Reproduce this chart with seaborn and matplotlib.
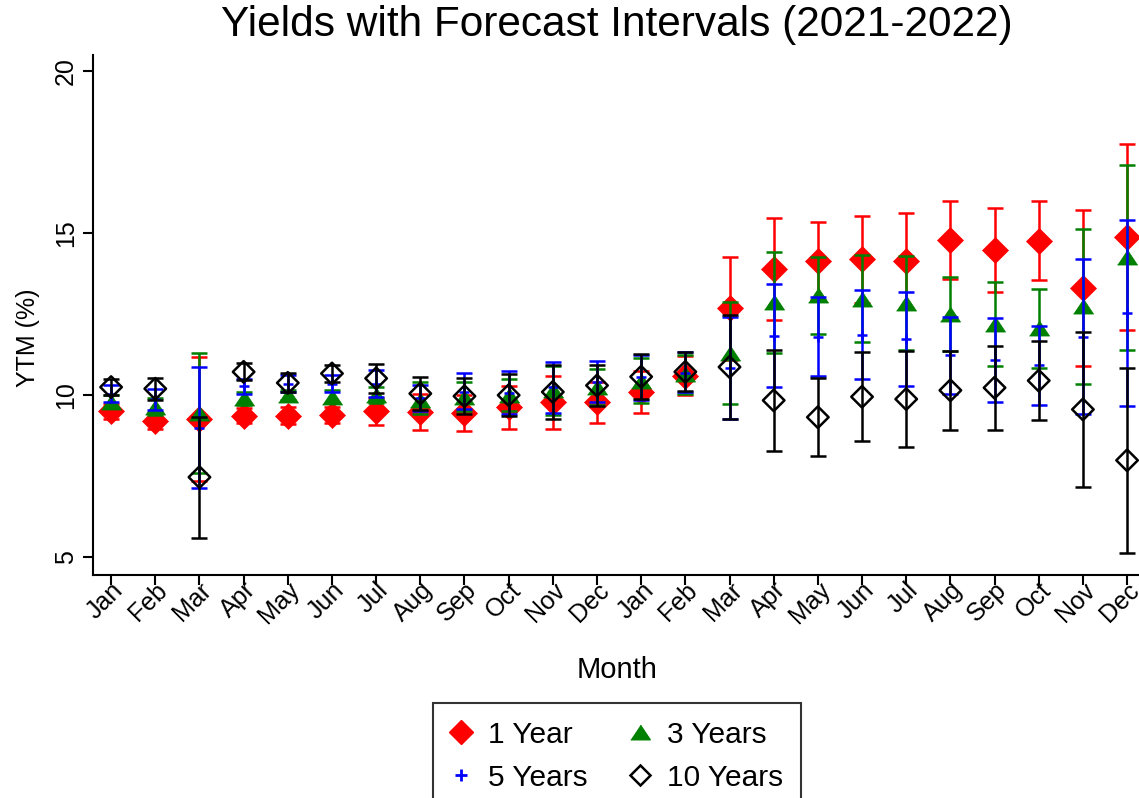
import numpy as np
import pandas as pd
import matplotlib
matplotlib.use("Agg")
import matplotlib.pyplot as plt
from matplotlib.lines import Line2D
import seaborn as sns

# ---------------- data ----------------
months = ["Jan", "Feb", "Mar", "Apr", "May", "Jun", "Jul", "Aug", "Sep", "Oct", "Nov", "Dec",
          "Jan", "Feb", "Mar", "Apr", "May", "Jun", "Jul", "Aug", "Sep", "Oct", "Nov", "Dec"]

y1 = [9.50, 9.20, 9.26, 9.37, 9.37, 9.38, 9.50, 9.49, 9.45, 9.62, 9.78, 9.78,
      10.10, 10.60, 12.68, 13.90, 14.14, 14.19, 14.14, 14.78, 14.49, 14.77, 13.30, 14.87]
lo1 = [9.27, 8.95, 7.35, 9.13, 9.12, 9.13, 9.08, 8.94, 8.90, 8.97, 8.97, 9.15,
       9.45, 10.00, 11.10, 12.33, 12.93, 12.85, 12.67, 13.59, 13.20, 13.55, 10.90, 12.00]
hi1 = [9.73, 9.45, 11.17, 9.61, 9.62, 9.63, 9.92, 10.04, 10.00, 10.28, 10.59, 10.41,
       10.75, 11.20, 14.27, 15.47, 15.35, 15.53, 15.61, 15.99, 15.78, 15.99, 15.71, 17.74]

y3 = [9.80, 9.65, 9.45, 9.90, 10.00, 9.95, 10.00, 9.85, 9.95, 10.00, 10.15, 10.25,
      10.45, 10.65, 11.30, 12.87, 13.09, 12.98, 12.85, 12.50, 12.20, 12.07, 12.74, 14.26]
lo3 = [9.60, 9.40, 7.60, 9.70, 9.85, 9.75, 9.75, 9.43, 9.50, 9.50, 9.40, 9.70,
       9.75, 10.05, 9.72, 11.30, 11.90, 11.64, 11.40, 11.37, 10.90, 10.85, 10.34, 11.40]
hi3 = [10.00, 9.90, 11.30, 10.10, 10.15, 10.15, 10.25, 10.40, 10.40, 10.50, 10.90, 10.80,
       11.15, 11.25, 12.88, 14.42, 14.27, 14.32, 14.30, 13.65, 13.50, 13.29, 15.13, 17.12]

y5 = [10.05, 9.87, 9.00, 10.28, 10.36, 10.36, 10.35, 9.90, 10.10, 10.08, 10.24, 10.40,
      10.55, 10.70, 10.84, 11.84, 11.81, 11.87, 11.73, 11.23, 11.08, 10.92, 11.81, 12.53]
lo5 = [9.79, 9.54, 7.13, 10.05, 10.10, 10.10, 9.93, 9.50, 9.56, 9.43, 9.45, 9.79,
       9.85, 10.10, 9.26, 10.26, 10.59, 10.50, 10.27, 10.03, 9.79, 9.71, 9.43, 9.66]
hi5 = [10.31, 10.20, 10.87, 10.51, 10.62, 10.62, 10.77, 10.30, 10.67, 10.74, 11.03, 11.05,
       11.25, 11.32, 12.42, 13.42, 13.03, 13.24, 13.19, 12.42, 12.37, 12.13, 14.19, 15.40]

y10 = [10.25, 10.20, 7.47, 10.72, 10.38, 10.67, 10.52, 10.05, 9.97, 10.00, 10.10, 10.30,
       10.57, 10.72, 10.87, 9.84, 9.32, 9.95, 9.88, 10.15, 10.23, 10.45, 9.56, 7.99]
lo10 = [10.00, 9.85, 5.60, 10.46, 10.10, 10.41, 10.08, 9.55, 9.41, 9.35, 9.28, 9.68,
        9.88, 10.13, 9.27, 8.27, 8.12, 8.59, 8.40, 8.94, 8.94, 9.23, 7.17, 5.13]
hi10 = [10.50, 10.52, 9.33, 10.98, 10.67, 10.93, 10.96, 10.57, 10.54, 10.65, 10.93, 10.92,
        11.28, 11.32, 12.47, 11.41, 10.54, 11.32, 11.36, 11.36, 11.52, 11.67, 11.95, 10.85]

labels = ["1 Year", "3 Years", "5 Years", "10 Years"]

# ---------------- style ----------------
sns.set_theme(style="white")
plt.rcParams["font.family"] = ["Liberation Sans", "DejaVu Sans"]
plt.rcParams["text.color"] = "black"
plt.rcParams["axes.labelcolor"] = "black"
plt.rcParams["xtick.color"] = "black"
plt.rcParams["ytick.color"] = "black"

W, H = 1139, 798
fig = plt.figure(figsize=(W / 100, H / 100), dpi=100)
ax = fig.add_axes([93 / W, 1 - 575 / H, 1 - 93 / W, (575 - 55) / H])

x = np.arange(len(months))
tri = [(-1, -0.75), (1, -0.75), (0, 0.75)]

specs = [
    (labels[0], y1, lo1, hi1, "#ff0000", "D", 175, "#ff0000", "#ff0000", 0.5),
    (labels[1], y3, lo3, hi3, "#008000", tri, 210, "#008000", "#008000", 0.5),
    (labels[2], y5, lo5, hi5, "#0000ff", "+", 60, "#0000ff", "#0000ff", 1.8),
    (labels[3], y10, lo10, hi10, "#000000", "D", 120, "none", "#000000", 1.8),
]

z = 2
for lab, y, lo, hi, col, mk, s, fc, ec, lw in specs:
    y = np.asarray(y); lo = np.asarray(lo); hi = np.asarray(hi)
    ax.errorbar(x, y, yerr=[y - lo, hi - y], fmt="none", ecolor=col,
                elinewidth=1.8, capsize=5.6, capthick=1.8, zorder=z)
    df = pd.DataFrame({"x": x, "y": y})
    sns.scatterplot(data=df, x="x", y="y", marker=mk, s=s, ax=ax,
                    color=col, facecolor=fc, edgecolor=ec, linewidth=lw,
                    zorder=z + 0.5, legend=False)
    z += 1

ax.set_xlim(-0.41, 23.27)
ax.set_ylim(4.45, 20.5)
ax.set_xticks(x)
ax.set_xticklabels(months, rotation=45, ha="right", va="top",
                   rotation_mode="anchor", fontsize=18)
ax.set_yticks([5, 10, 15, 20])
ax.set_yticklabels(["5", "10", "15", "20"], rotation=90, va="center", fontsize=18)
ax.tick_params(axis="both", which="both", bottom=True, left=True, direction="out",
               length=7, width=1.5, colors="black")
ax.tick_params(axis="x", pad=-5)
ax.tick_params(axis="y", pad=4)
ax.set_xlabel("")
ax.set_ylabel("")
for side in ["top", "right"]:
    ax.spines[side].set_visible(False)
for side in ["left", "bottom"]:
    ax.spines[side].set_color("black")
    ax.spines[side].set_linewidth(1.5)
ax.grid(False)

fig.text(617 / W, 1 - 25 / H, "Yields with Forecast Intervals (2021-2022)",
         ha="center", va="center", fontsize=30.5)
fig.text(617 / W, 1 - 670 / H, "Month", ha="center", va="center", fontsize=21)
fig.text(28 / W, 1 - 338 / H, "YTM (%)", ha="center", va="center",
         rotation=90, fontsize=18)

handles = [
    Line2D([], [], ls="none", marker="D", ms=12, mfc="#ff0000", mec="#ff0000"),
    Line2D([], [], ls="none", marker="+", ms=8, mew=2, color="#0000ff"),
    Line2D([], [], ls="none", marker=tri, ms=14, mfc="#008000", mec="#008000"),
    Line2D([], [], ls="none", marker="D", ms=10, mfc="none", mec="black", mew=1.8),
]
leg = fig.legend(handles, [labels[0], labels[2], labels[1], labels[3]], ncol=2,
                 loc="upper center", bbox_to_anchor=(617 / W, 1 - 703 / H),
                 borderaxespad=0.0,
                 fontsize=21.5, frameon=True, fancybox=False, edgecolor="black",
                 handlelength=0.7, handletextpad=0.55, columnspacing=1.4,
                 labelspacing=0.5, borderpad=0.6)
leg.get_frame().set_linewidth(1.5)

fig.savefig("out.png", dpi=100, facecolor="white")
